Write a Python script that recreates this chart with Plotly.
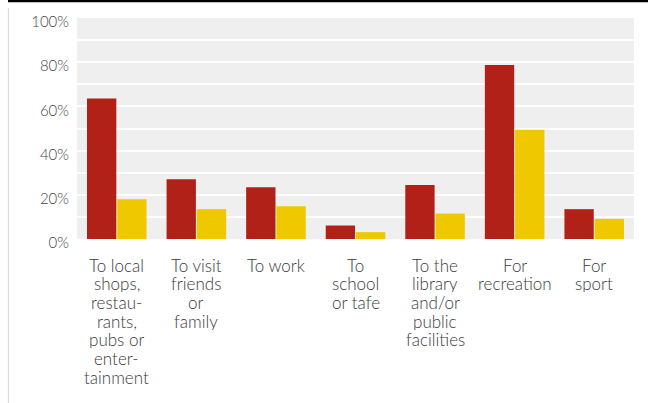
import plotly.graph_objects as go

categories = [
    "To local\nshops,\nrestau-\nrants,\npubs or\nenter-\ntainment",
    "To visit\nfriends\nor\nfamily",
    "To work",
    "To\nschool\nor tafe",
    "To the\nlibrary\nand/or\npublic\nfacilities",
    "For\nrecreation",
    "For\nsport",
]
series_red = [63.6, 27.0, 23.4, 6.1, 24.4, 78.7, 13.5]
series_yellow = [18.0, 13.5, 14.8, 3.1, 11.5, 49.4, 9.1]
y_ticks = [0, 20, 40, 60, 80, 100]

RED = "#b22117"
YELLOW = "#f0c800"
W, H = 648, 403
M_L, M_R, M_T, M_B = 77, 14, 18, 164
FONT = "Lato, 'Open Sans', sans-serif"
LABEL_SIZE = 17
LINE_STEP = 18.7          # tight line spacing of the category labels, px
FIRST_LINE_MID = 264.5    # vertical middle of the first label line, px from top

plot_h = H - M_T - M_B
plot_w = W - M_L - M_R


def px_to_paper_y(py):
    return (H - M_B - py) / plot_h


def px_to_paper_x(px):
    return (px - M_L) / plot_w


fig = go.Figure()
fig.add_trace(go.Bar(x=categories, y=series_red, marker_color=RED, marker_line_width=0))
fig.add_trace(go.Bar(x=categories, y=series_yellow, marker_color=YELLOW, marker_line_width=0))

# category labels, one annotation per line so the line spacing stays tight
annotations = []
for cat in categories:
    for i, line in enumerate(cat.split("\n")):
        annotations.append(dict(
            x=cat, xref="x",
            y=px_to_paper_y(FIRST_LINE_MID + i * LINE_STEP), yref="paper",
            yanchor="middle", xanchor="center", valign="middle",
            height=LINE_STEP - 0.6, borderpad=0,
            text=line, showarrow=False,
            font=dict(family=FONT, size=LABEL_SIZE, color="#3a3a3a", weight=300),
        ))

shapes = [
    # black rule across the top
    dict(type="line", xref="paper", yref="paper",
         x0=px_to_paper_x(8), x1=px_to_paper_x(W + 2),
         y0=px_to_paper_y(1), y1=px_to_paper_y(1),
         line=dict(color="#000000", width=2.5)),
    # faint frame line down the left
    dict(type="line", xref="paper", yref="paper",
         x0=px_to_paper_x(8.5), x1=px_to_paper_x(8.5),
         y0=px_to_paper_y(8), y1=px_to_paper_y(H + 2),
         line=dict(color="#dddddd", width=1.2)),
]

fig.update_layout(
    width=W, height=H,
    margin=dict(l=M_L, r=M_R, t=M_T, b=M_B, pad=0),
    paper_bgcolor="white",
    plot_bgcolor="#efefef",
    barmode="group",
    bargap=0.24,
    bargroupgap=0.03,
    showlegend=False,
    font=dict(family=FONT, size=15, color="#4a4a4a"),
    shapes=shapes,
    annotations=annotations,
    xaxis=dict(
        showgrid=False, zeroline=False, showline=False, ticks="",
        showticklabels=False, automargin=False,
        fixedrange=True,
    ),
    yaxis=dict(
        range=[0, 100],
        tickvals=y_ticks,
        ticktext=[f"{v}%" for v in y_ticks],
        showgrid=True, gridcolor="white", gridwidth=1.5,
        minor=dict(dtick=10, showgrid=True, gridcolor="white", gridwidth=1.5),
        zeroline=False, showline=False, ticks="",
        ticklabelstandoff=7,
        ticklabelshift=4,
        automargin=False,
        tickfont=dict(family=FONT, size=15, color="#444444", weight=300),
        fixedrange=True,
    ),
)

fig.write_html("out.html")
